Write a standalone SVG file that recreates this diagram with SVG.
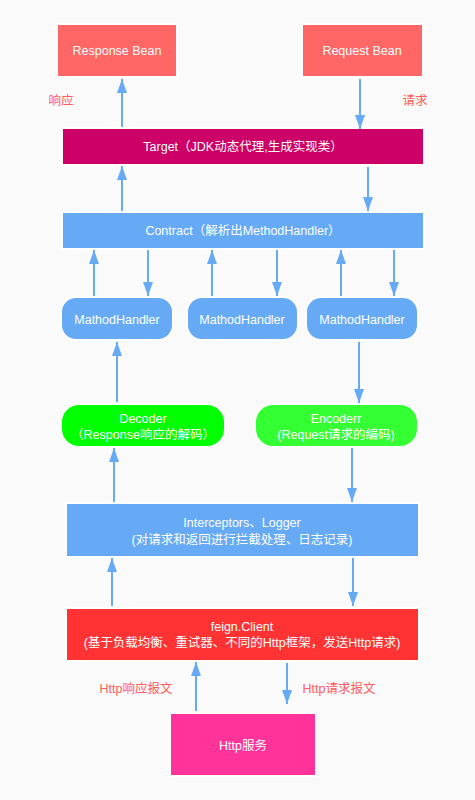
<svg xmlns="http://www.w3.org/2000/svg" width="475" height="800" viewBox="0 0 475 800">
<defs>
<marker id="ah" markerUnits="userSpaceOnUse" markerWidth="14" markerHeight="10" refX="14" refY="5" orient="auto">
<path d="M0,0 L14,5 L0,10 z" fill="#66AAF6"/>
</marker>
<style>
.box{stroke:#ffffff;stroke-width:2}
.t{font-family:"Liberation Sans","Noto Sans CJK SC",sans-serif;font-size:12.5px;fill:#ffffff;text-anchor:middle}
.lbl{font-family:"Liberation Sans","Noto Sans CJK SC",sans-serif;font-size:12.5px;fill:#FF5C5C;text-anchor:middle}
.c line{stroke:#66AAF6;stroke-width:2;marker-end:url(#ah)}
</style>
</defs>
<rect width="475" height="800" fill="#FAFAFA"/>
<g id="response-bean"><rect class="box" x="57" y="24" width="120" height="53" fill="#FF6666"/><text class="t" x="117" y="55">Response Bean</text></g>
<g id="request-bean"><rect class="box" x="302" y="24" width="121" height="53" fill="#FF6666"/><text class="t" x="362" y="55">Request Bean</text></g>
<g id="target"><rect class="box" x="62" y="128" width="362" height="37" fill="#CC0066"/><text class="t" x="243" y="151">Target（JDK动态代理,生成实现类）</text></g>
<g id="contract"><rect class="box" x="62" y="212" width="362" height="37" fill="#66AAF6"/><text class="t" x="243" y="235">Contract（解析出MethodHandler）</text></g>
<g id="mh1"><rect class="box" x="61" y="297" width="112" height="43" rx="15" fill="#66AAF6"/><text class="t" x="117" y="324">MathodHandler</text></g>
<g id="mh2"><rect class="box" x="187" y="297" width="111" height="43" rx="15" fill="#66AAF6"/><text class="t" x="242" y="324">MathodHandler</text></g>
<g id="mh3"><rect class="box" x="306" y="297" width="112" height="43" rx="15" fill="#66AAF6"/><text class="t" x="362" y="324">MathodHandler</text></g>
<g id="decoder"><rect class="box" x="61" y="404" width="164" height="43" rx="18" fill="#00FF00"/><text class="t" x="143" y="423">Decoder</text><text class="t" x="143" y="439">（Response响应的解码）</text></g>
<g id="encoder"><rect class="box" x="255" y="404" width="163" height="43" rx="18" fill="#33FF33"/><text class="t" x="336" y="423">Encoderr</text><text class="t" x="336" y="439">(Request请求的编码)</text></g>
<g id="interceptors"><rect class="box" x="66" y="503" width="353" height="54" fill="#66AAF6"/><text class="t" x="242" y="527">Interceptors、Logger</text><text class="t" x="242" y="544">(对请求和返回进行拦截处理、日志记录)</text></g>
<g id="feign-client"><rect class="box" x="66" y="608" width="353" height="53" fill="#FF3333"/><text class="t" x="242" y="631">feign.Client</text><text class="t" x="242" y="647">(基于负载均衡、重试器、不同的Http框架，发送Http请求)</text></g>
<g id="http-service"><rect class="box" x="170" y="713" width="146" height="63" fill="#FF3399"/><text class="t" x="243" y="750">Http服务</text></g>
<g id="labels">
<text class="lbl" x="61" y="105">响应</text>
<text class="lbl" x="415" y="105">请求</text>
<text class="lbl" x="136" y="693">Http响应报文</text>
<text class="lbl" x="339" y="693">Http请求报文</text>
</g>
<g class="c" id="connectors">
<line x1="122" y1="127" x2="122" y2="79"/>
<line x1="360" y1="79" x2="360" y2="129"/>
<line x1="122" y1="211" x2="122" y2="166"/>
<line x1="368" y1="167" x2="368" y2="211"/>
<line x1="94" y1="296" x2="94" y2="250"/>
<line x1="148" y1="250" x2="148" y2="296"/>
<line x1="212" y1="296" x2="212" y2="250"/>
<line x1="277" y1="250" x2="277" y2="296"/>
<line x1="341" y1="296" x2="341" y2="250"/>
<line x1="394" y1="250" x2="394" y2="296"/>
<line x1="117" y1="402" x2="117" y2="342"/>
<line x1="359" y1="342" x2="359" y2="403"/>
<line x1="114" y1="502" x2="114" y2="448"/>
<line x1="352" y1="448" x2="352" y2="502"/>
<line x1="112" y1="606" x2="112" y2="558"/>
<line x1="353" y1="558" x2="353" y2="606"/>
<line x1="196" y1="711" x2="196" y2="662"/>
<line x1="287" y1="663" x2="287" y2="704"/>
</g>
</svg>
